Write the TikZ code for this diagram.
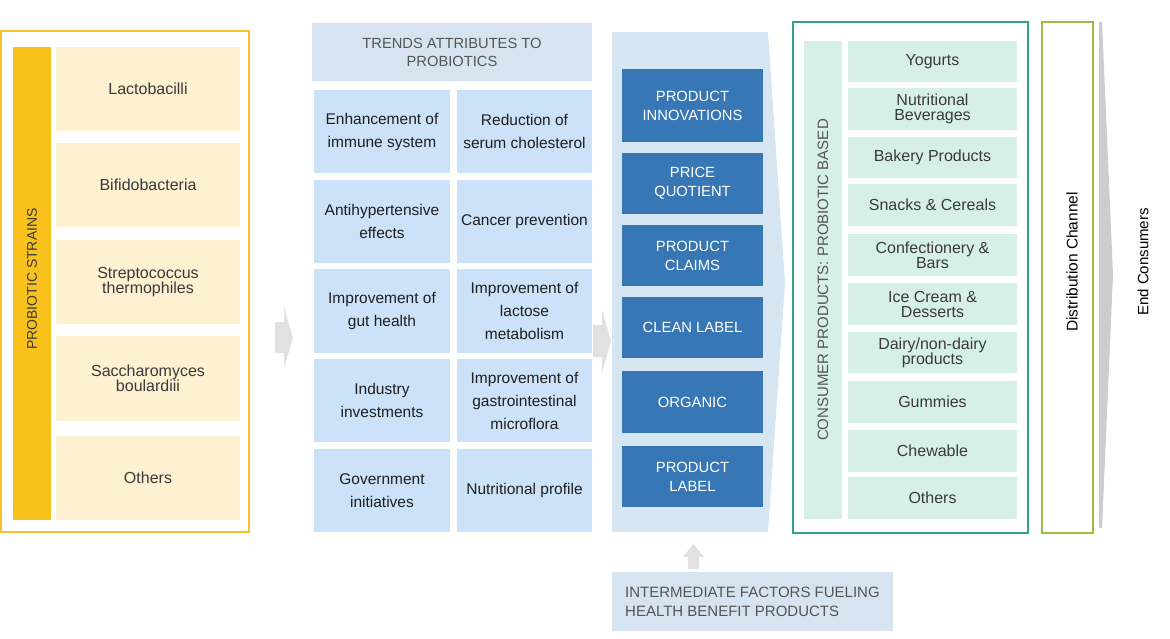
\documentclass[tikz,border=0pt]{standalone}
\usepackage{fontspec}
\setmainfont{Liberation Sans}
\definecolor{yframe}{HTML}{F7C325}
\definecolor{ybar}{HTML}{F8C11C}
\definecolor{cream}{HTML}{FEF1D1}
\definecolor{hdrbg}{HTML}{D6E4F1}
\definecolor{cellbg}{HTML}{CBE2F8}
\definecolor{colbg}{HTML}{D6E5F2}
\definecolor{dblue}{HTML}{3877B6}
\definecolor{teal}{HTML}{35A08A}
\definecolor{mint}{HTML}{D6F0E8}
\definecolor{olive}{HTML}{9CBC45}
\definecolor{agray}{HTML}{E1E1E1}
\definecolor{wgray}{HTML}{CDCDCD}
\definecolor{txt}{HTML}{3A3A3A}
\definecolor{htxt}{HTML}{555555}
\tikzset{
  box/.style={inner sep=0pt, align=center, text=txt},
  creambox/.style={box, fill=cream, minimum width=184pt, font=\fontsize{16}{15.5}\selectfont},
  gridcell/.style={box, fill=cellbg, minimum height=83pt, font=\fontsize{15.5}{23}\selectfont, text=black!88},
  bluebox/.style={box, fill=dblue, text=white, minimum width=141pt, minimum height=61pt, font=\fontsize{14.8}{19}\selectfont},
  mintbox/.style={box, fill=mint, minimum width=169pt, minimum height=42pt, font=\fontsize{16}{15}\selectfont},
  blockarrow/.style={fill=agray, draw=none},
}
\begin{document}
\begin{tikzpicture}[x=1pt,y=-1pt]
\useasboundingbox (0,0) rectangle (1170,638);

% ---------- left panel ----------
\node[draw=yframe, line width=1.6pt, minimum width=248pt, minimum height=501pt, inner sep=0pt] (frameL) at (125,281.5) {};
\node[fill=ybar, minimum width=38pt, minimum height=473pt, inner sep=0pt] (barL) at (32,283.5) {};
\node[rotate=90, text=txt, font=\fontsize{14}{16}\selectfont] (strains) at (32,279) {PROBIOTIC STRAINS};
\node[creambox, minimum height=84pt] (lacto) at (148,89) {Lactobacilli};
\node[creambox, minimum height=84pt] (bifido) at (148,185) {Bifidobacteria};
\node[creambox, minimum height=84pt] (strep) at (148,282) {Streptococcus\\thermophiles};
\node[creambox, minimum height=85pt] (sacch) at (148,378.5) {Saccharomyces\\boulardiii};
\node[creambox, minimum height=84pt] (othL) at (148,478) {Others};

% arrow 1
\coordinate (a1) at (275,337.5);
\fill[blockarrow] (a1) ++(0,-15.5) -- ++(9,0) -- ++(0,-15) -- ++(9,30.5) -- ++(-9,30.5) -- ++(0,-15) -- ++(-9,0) -- cycle;

% ---------- middle panel ----------
\node[box, fill=hdrbg, minimum width=280pt, minimum height=58pt, text=htxt, font=\fontsize{14.7}{18}\selectfont] (hdr) at (452,52) {TRENDS ATTRIBUTES TO\\PROBIOTICS};
\node[gridcell, minimum width=136pt] (c11) at (382,131.5) {Enhancement of\\immune system};
\node[gridcell, minimum width=135pt] (c12) at (524.5,131.5) {Reduction of\\serum cholesterol};
\node[gridcell, minimum width=136pt] (c21) at (382,221.5) {Antihypertensive\\effects};
\node[gridcell, minimum width=135pt] (c22) at (524.5,221.5) {Cancer prevention};
\node[gridcell, minimum width=136pt, minimum height=84pt] (c31) at (382,311) {Improvement of\\gut health};
\node[gridcell, minimum width=135pt, minimum height=84pt] (c32) at (524.5,311) {Improvement of\\lactose\\metabolism};
\node[gridcell, minimum width=136pt] (c41) at (382,400.5) {Industry\\investments};
\node[gridcell, minimum width=135pt] (c42) at (524.5,400.5) {Improvement of\\gastrointestinal\\microflora};
\node[gridcell, minimum width=136pt] (c51) at (382,490.5) {Government\\initiatives};
\node[gridcell, minimum width=135pt] (c52) at (524.5,490.5) {Nutritional profile};

% ---------- blue column ----------
\fill[colbg] (612,32) -- (768,32) -- (785,283) -- (768,532) -- (612,532) -- cycle;
\coordinate (a2) at (593,341);
\fill[blockarrow] (a2) ++(0,-16) -- ++(9,0) -- ++(0,-15) -- ++(9,31) -- ++(-9,32) -- ++(0,-16) -- ++(-9,0) -- cycle;
\node[bluebox, minimum height=73pt] (innov) at (692.5,105.5) {PRODUCT\\INNOVATIONS};
\node[bluebox] (price) at (692.5,183.5) {PRICE\\QUOTIENT};
\node[bluebox] (claims) at (692.5,255.5) {PRODUCT\\CLAIMS};
\node[bluebox] (clean) at (692.5,327.5) {CLEAN LABEL};
\node[bluebox, minimum height=62pt] (organic) at (692.5,402) {ORGANIC};
\node[bluebox] (plabel) at (692.5,476.5) {PRODUCT\\LABEL};

% bottom box and arrow
\node[fill=hdrbg, minimum width=281pt, minimum height=59pt, inner sep=0pt] (inter) at (752.5,601.5) {};
\node[anchor=west, inner sep=0pt, align=left, text=htxt, font=\fontsize{15}{19}\selectfont] (interT) at (625,601.5) {INTERMEDIATE FACTORS FUELING\\HEALTH BENEFIT PRODUCTS};
\coordinate (a3) at (693.5,544);
\fill[blockarrow] (a3) -- ++(10.5,13) -- ++(-5,0) -- ++(0,12) -- ++(-11,0) -- ++(0,-12) -- ++(-5,0) -- cycle;

% ---------- right panel ----------
\node[draw=teal, line width=1.6pt, minimum width=235pt, minimum height=511pt, inner sep=0pt] (frameR) at (910.5,277.5) {};
\node[fill=mint, minimum width=38pt, minimum height=478pt, inner sep=0pt] (barR) at (823,280) {};
\node[rotate=90, text=htxt, font=\fontsize{15}{17}\selectfont] (cons) at (823,280) {CONSUMER PRODUCTS: PROBIOTIC BASED};
\node[mintbox, minimum height=41pt] (yog) at (932.5,61.5) {Yogurts};
\node[mintbox] (nutr) at (932.5,109) {Nutritional\\Beverages};
\node[mintbox, minimum height=41pt] (bak) at (932.5,157.5) {Bakery Products};
\node[mintbox] (snk) at (932.5,205) {Snacks \& Cereals};
\node[mintbox] (conf) at (932.5,255) {Confectionery \&\\Bars};
\node[mintbox] (ice) at (932.5,304) {Ice Cream \&\\Desserts};
\node[mintbox, minimum height=41pt] (dairy) at (932.5,352.5) {Dairy/non-dairy\\products};
\node[mintbox] (gum) at (932.5,402) {Gummies};
\node[mintbox] (chew) at (932.5,451) {Chewable};
\node[mintbox] (othR) at (932.5,498) {Others};

% ---------- distribution / end consumers ----------
\node[draw=olive, line width=1.6pt, minimum width=51pt, minimum height=511pt, inner sep=0pt] (dist) at (1067.5,277.5) {};
\node[rotate=90, text=black, font=\fontsize{15.5}{17}\selectfont] (distT) at (1072,262) {Distribution Channel};
\fill[wgray] (1099,22) -- (1102,22) -- (1113,275) -- (1102,528) -- (1099,528) -- cycle;
\node[rotate=90, text=black, font=\fontsize{15}{17}\selectfont] (endc) at (1143,262) {End Consumers};
\end{tikzpicture}
\end{document}
